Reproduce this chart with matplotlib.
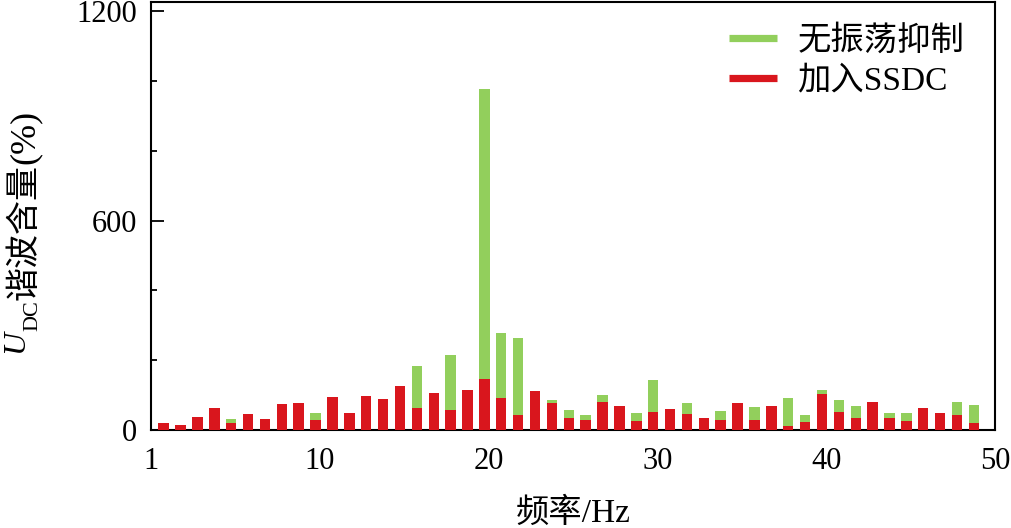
import numpy as np
import matplotlib
matplotlib.use('Agg')
import matplotlib.pyplot as plt
from matplotlib.lines import Line2D
from matplotlib.ticker import FixedLocator
from matplotlib.transforms import IdentityTransform

# ---------------- data ----------------
freq = np.arange(1, 50)
no_damping = [20, 15, 36, 64, 32, 47, 31, 74, 76, 49,
              94, 50, 97, 88, 126, 184, 107, 216, 116, 978,
              279, 264, 111, 85, 56, 42, 99, 68, 48, 142,
              60, 76, 34, 53, 76, 67, 69, 93, 42, 115,
              87, 68, 79, 48, 48, 62, 49, 79, 72]
with_ssdc = [20, 15, 36, 64, 20, 47, 31, 74, 76, 28,
             94, 50, 97, 88, 126, 64, 107, 56, 116, 145,
             92, 44, 111, 77, 33, 30, 81, 68, 26, 52,
             60, 45, 34, 30, 76, 28, 69, 11, 23, 104,
             52, 35, 79, 35, 27, 62, 49, 44, 19]
series_labels = ['无振荡抑制', '加入SSDC']
xtick_pos = [0, 10, 20, 30, 40, 50]
xtick_labels = ['1', '10', '20', '30', '40', '50']
ytick_major = [0, 600, 1200]
ytick_minor = [200, 400, 800, 1000]
xlabel = '频率/Hz'

GREEN = '#92CF5C'
RED = '#D9161D'

plt.rcParams['font.family'] = ['Liberation Serif', 'Noto Sans CJK SC']
plt.rcParams['axes.unicode_minus'] = False

W, H = 1012, 528
fig = plt.figure(figsize=(W / 100, H / 100), dpi=100)
ax = fig.add_axes([151 / W, 1 - 430 / H, (995 - 151) / W, (430 - 2) / H])

xpos = freq - 0.25
ax.bar(xpos, no_damping, width=0.62, color=GREEN, linewidth=0, zorder=2)
ax.bar(xpos, with_ssdc, width=0.62, color=RED, linewidth=0, zorder=3)

ax.set_xlim(0, 50)
ax.set_ylim(0, 1226)
ax.xaxis.set_major_locator(FixedLocator(xtick_pos))
ax.set_xticklabels(xtick_labels)
ax.yaxis.set_major_locator(FixedLocator(ytick_major))
ax.yaxis.set_minor_locator(FixedLocator(ytick_minor))
ax.tick_params(axis='both', which='major', direction='in', labelsize=22,
               width=1.3, top=False, right=False)
ax.tick_params(axis='y', which='major', length=9, pad=10)
ax.tick_params(axis='y', which='minor', direction='in', length=4, width=1.3)
ax.tick_params(axis='x', which='major', length=5, pad=12)
for sp in ax.spines.values():
    sp.set_linewidth(1.5)

ax.set_xlabel(xlabel, fontsize=24, labelpad=16)

handles = [Line2D([], [], color=GREEN, lw=5.2, solid_capstyle='butt'),
           Line2D([], [], color=RED, lw=5.2, solid_capstyle='butt')]
ax.legend(handles, series_labels, loc='upper left', bbox_to_anchor=(0.685, 0.947),
          frameon=False, fontsize=24, handlelength=1.45, handletextpad=0.6,
          labelspacing=0.3, borderpad=0, borderaxespad=0)

# ---------------- y label built from pieces ----------------
fig.canvas.draw()
r = fig.canvas.get_renderer()


def piece(s, x, y, size, **kw):
    t = fig.text(x, y, s, transform=IdentityTransform(), rotation=90,
                 rotation_mode='anchor', ha='left', va='baseline',
                 fontsize=size, **kw)
    return t.get_window_extent(r)


y0 = H - 353
bb = piece('U', 23, y0, 23, style='italic', family='Liberation Serif')
bb = piece('DC', 37, bb.y1 - 1, 16, family='Liberation Serif')
bb = piece('谐波含量', 34, bb.y1, 24.5, family=['Noto Sans CJK SC'])
bb = piece('(%)', 34, bb.y1, 26, family='Liberation Serif')

fig.savefig('out.png', dpi=100)
